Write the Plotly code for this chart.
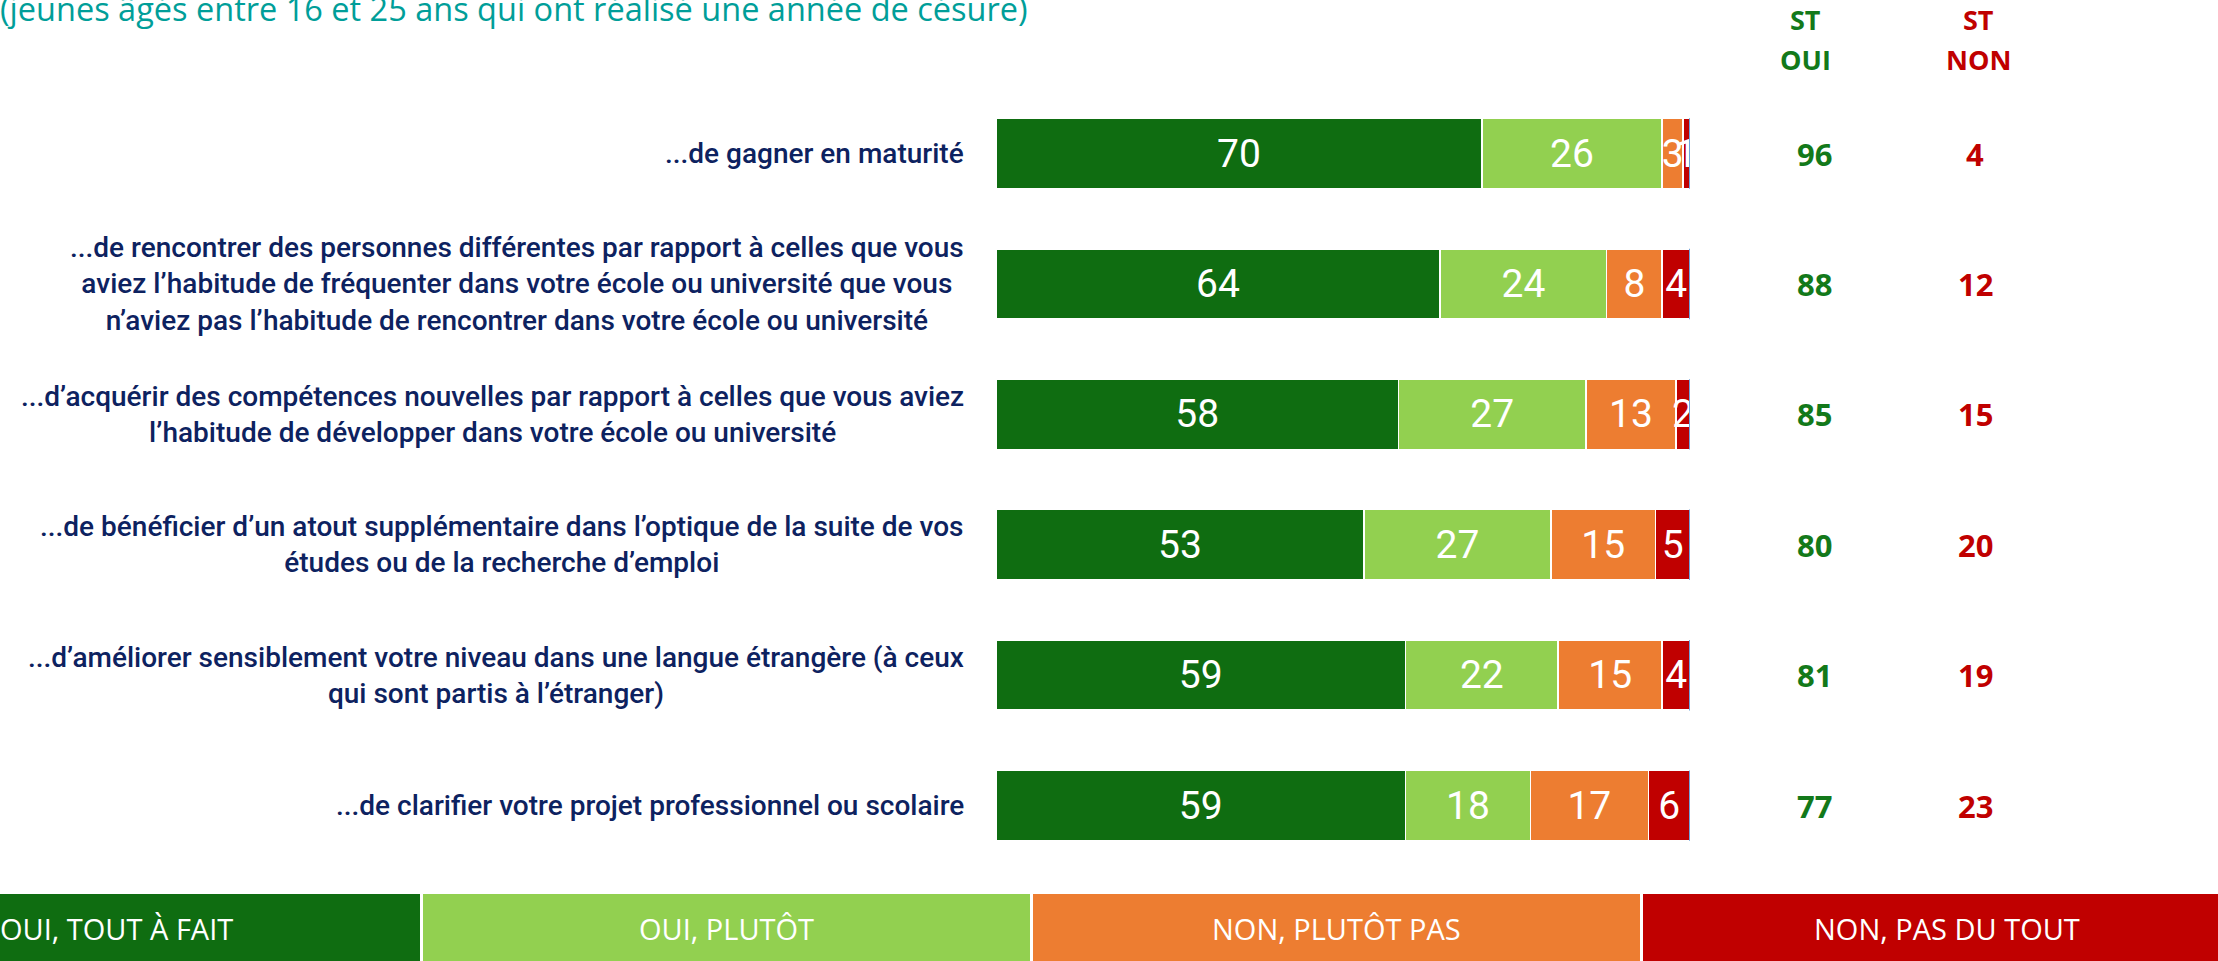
import plotly.graph_objects as go

W, H = 2218, 961

title_text = "(jeunes âgés entre 16 et 25 ans qui ont réalisé une année de césure)"

labels = [
    "...de gagner en maturité",
    "...de rencontrer des personnes différentes par rapport à celles que vous<br>aviez l’habitude de fréquenter dans votre école ou université que vous<br>n’aviez pas l’habitude de rencontrer dans votre école ou université",
    "...d’acquérir des compétences nouvelles par rapport à celles que vous aviez<br>l’habitude de développer dans votre école ou université",
    "...de bénéficier d’un atout supplémentaire dans l’optique de la suite de vos<br>études ou de la recherche d’emploi",
    "...d’améliorer sensiblement votre niveau dans une langue étrangère (à ceux<br>qui sont partis à l’étranger)",
    "...de clarifier votre projet professionnel ou scolaire",
]

series_names = ["OUI, TOUT À FAIT", "OUI, PLUTÔT", "NON, PLUTÔT PAS", "NON, PAS DU TOUT"]
tout_a_fait = [70, 64, 58, 53, 59, 59]
plutot = [26, 24, 27, 27, 22, 18]
plutot_pas = [3, 8, 13, 15, 15, 17]
pas_du_tout = [1, 4, 2, 5, 4, 6]
st_oui = [96, 88, 85, 80, 81, 77]
st_non = [4, 12, 15, 20, 19, 23]

colors = ["#0F6D11", "#92D050", "#ED7D31", "#C00000"]
series = [tout_a_fait, plutot, plutot_pas, pas_du_tout]

def px(x):
    return x / W

def py(y):
    return 1 - y / H

rows = list(range(len(labels)))

fig = go.Figure()
for name, vals, col in zip(series_names, series, colors):
    fig.add_trace(go.Bar(
        x=vals, y=rows, orientation="h", name=name,
        marker=dict(color=col, line=dict(color="white", width=1.5)),
        text=[str(v) for v in vals],
        textposition="inside", insidetextanchor="middle",
        textangle=0, constraintext="none",
        textfont=dict(family="Roboto", size=39, color="white"),
        hoverinfo="skip", showlegend=False,
    ))

annotations = []
# title
annotations.append(dict(
    text=title_text, xref="paper", yref="paper", x=px(1030), y=py(9),
    xanchor="right", yanchor="middle", showarrow=False,
    font=dict(family="Open Sans", size=32.5, color="#009E99"),
))
# row labels
for i, lab in enumerate(labels):
    annotations.append(dict(
        text=lab, xref="paper", yref="y", x=px(966), y=i,
        xanchor="right", yanchor="middle", align="center", showarrow=False,
        font=dict(family="Roboto", size=28, color="#0D2260", weight=500),
    ))
# ST columns
green_txt = "#13791A"
red_txt = "#C00000"
for txt, ycen in [("ST", 19.5), ("OUI", 59.5)]:
    annotations.append(dict(text="<b>%s</b>" % txt, xref="paper", yref="paper",
                            x=px(1805), y=py(ycen), showarrow=False,
                            xanchor="center", yanchor="middle",
                            font=dict(family="Open Sans", size=27, color=green_txt)))
for txt, ycen in [("ST", 19.5), ("NON", 59.5)]:
    annotations.append(dict(text="<b>%s</b>" % txt, xref="paper", yref="paper",
                            x=px(1978), y=py(ycen), showarrow=False,
                            xanchor="center", yanchor="middle",
                            font=dict(family="Open Sans", size=27, color=red_txt)))
for i in rows:
    annotations.append(dict(text="<b>%d</b>" % st_oui[i], xref="paper", yref="y",
                            x=px(1814), y=i, showarrow=False,
                            xanchor="center", yanchor="middle",
                            font=dict(family="Open Sans", size=31, color=green_txt)))
    annotations.append(dict(text="<b>%d</b>" % st_non[i], xref="paper", yref="y",
                            x=px(1975), y=i, showarrow=False,
                            xanchor="center", yanchor="middle",
                            font=dict(family="Open Sans", size=31, color=red_txt)))

shapes = []
# thin blue line at the end of each bar
for i in rows:
    total = sum(s[i] for s in series)
    shapes.append(dict(type="line", xref="x", yref="y", x0=total, x1=total,
                       y0=i - 0.27, y1=i + 0.27,
                       line=dict(color="#6FA3DC", width=2)))

# legend boxes along the bottom
box_w = 607
gap = 3
box_right_first = 420
lefts = [box_right_first - box_w + k * (box_w + gap) for k in range(4)]
for k, (name, col) in enumerate(zip(series_names, colors)):
    x0 = lefts[k]
    x1 = x0 + box_w
    shapes.append(dict(type="rect", xref="paper", yref="paper",
                       x0=px(x0), x1=px(x1), y0=py(980), y1=py(894),
                       fillcolor=col, line=dict(width=0), layer="above"))
    annotations.append(dict(text=name, xref="paper", yref="paper",
                            x=px((x0 + x1) / 2), y=py(928), showarrow=False,
                            xanchor="center", yanchor="middle",
                            font=dict(family="Open Sans", size=29, color="white")))

fig.update_layout(
    width=W, height=H,
    margin=dict(l=0, r=0, t=0, b=0),
    paper_bgcolor="white", plot_bgcolor="white",
    barmode="stack", bargap=0.463,
    xaxis=dict(domain=[px(996), px(1690)], range=[0, 100], visible=False, fixedrange=True),
    yaxis=dict(domain=[py(870.8), py(88.3)], range=[5.5, -0.5], visible=False, fixedrange=True),
    annotations=annotations, shapes=shapes,
    showlegend=False,
)

fig.write_html(
    "out.html",
    config={"displayModeBar": False},
    post_script="document.body.style.margin='0';document.body.style.overflow='hidden';",
)
